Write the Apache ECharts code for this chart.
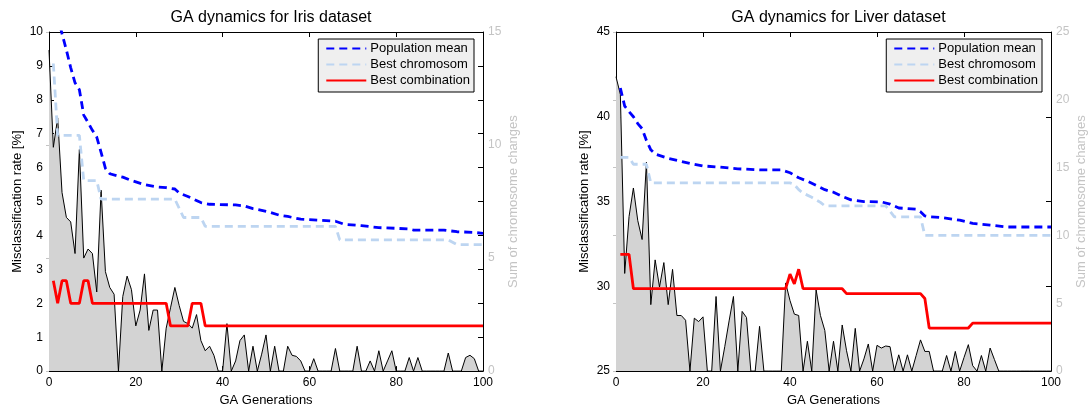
<!DOCTYPE html>
<html><head><meta charset="utf-8">
<script src="https://cdn.jsdelivr.net/npm/echarts@6/dist/echarts.min.js"></script>
<style>html,body{margin:0;padding:0;background:#fff}#c{width:1090px;height:412px}</style>
</head><body><div id="c"></div>
<script>
// ---------- DATA ----------
const titles = ['GA dynamics for Iris dataset', 'GA dynamics for Liver dataset'];
const seriesNames = ['Population mean', 'Best chromosom', 'Best combination'];
const xTicks = [0, 20, 40, 60, 80, 100];
const irisLeftTicks = [0, 10, 1];     // min, max, interval
const irisRightTicks = [0, 15, 5];
const liverLeftTicks = [25, 45, 5];
const liverRightTicks = [0, 25, 5];

// Sum of chromosome changes, generation 0..100 (right axis)
const irisChanges = [14.2,9.9,11.2,7.9,6.8,6.6,5.2,9.8,5.0,5.4,
  5.2,3.5,8.0,4.4,3.7,3.4,0,3.3,4.2,3.6,
  2.0,2.7,4.3,1.8,2.7,2.7,0,1.9,2.8,3.7,
  2.9,2.2,2.1,1.9,2.5,1.35,0.9,1.1,0.7,0,
  0,2.1,0,0.45,1.35,1.6,0,1.1,0,0.75,
  1.6,0,1.1,0,0,1.1,0.7,0.65,0.45,0,
  0,0.55,0,0,0,0,1.0,0,0,0,
  0,1.1,0,0,0.45,0,0.9,0,0.45,0.9,
  0,0,0,0.6,0,0.6,0,0,0,0,
  0,0,0.8,0,0,0,0.6,0.7,0.55,0,0];
const liverChanges = [21.7,20.4,7.2,11.4,13.5,11.1,9.7,15.4,4.9,8.2,
  6.2,8.0,4.9,7.5,4.1,4.1,3.75,0,3.9,3.65,
  4.0,0,0,5.5,0,1.8,3.7,5.5,0,4.4,
  3.95,0,0,3.3,0,0,0,0,0,6.5,
  5.2,4.2,4.1,0,2.2,0,6.0,4.1,3.0,0,
  2.2,0,3.4,1.5,0,3.15,0,0.9,2.0,0,
  1.9,1.7,1.85,1.8,0,1.2,0,1.2,0,1.15,
  2.3,1.45,1.45,0,0,0,1.15,0,1.45,0,
  1.0,1.95,0.4,0,1.15,0,1.7,0.85,0,0,
  0,0,0,0,0,0,0,0,0,0,0];

// [generation, misclassification %]
const irisMean = [[1,10.9],[2,10.45],[3,9.95],[4,9.47],[5,8.95],[6,8.5],[7,8.3],[8,7.55],[9,7.33],[10,7.1],[11,6.9],[12,6.45],[13,5.98],[14,5.82],[16,5.75],[17,5.72],[19,5.62],[22,5.5],[25,5.43],[27,5.41],[29,5.37],[30,5.25],[32,5.15],[35,4.97],[37,4.92],[43,4.9],[45,4.87],[47,4.79],[49,4.74],[51,4.68],[53,4.6],[55,4.56],[58,4.48],[62,4.45],[66,4.42],[68,4.33],[72,4.29],[76,4.23],[80,4.21],[83,4.19],[84,4.16],[91,4.16],[94,4.11],[98,4.09],[100,4.06]];
const irisBestChrom = [[1,9.07],[2,6.95],[7,6.95],[8,5.62],[11,5.62],[12,5.07],[29,5.07],[31,4.53],[35,4.53],[36,4.27],[66,4.27],[67,3.87],[92,3.87],[94,3.73],[100,3.73]];
const irisBestComb = [[1,2.667],[2,2.0],[3,2.667],[4,2.667],[5,2.0],[7,2.0],[8,2.667],[9,2.667],[10,2.0],[27,2.0],[28,1.333],[32,1.333],[33,2.0],[35,2.0],[36,1.333],[100,1.333]];

const liverMean = [[1,41.7],[2,40.63],[3,40.3],[4,40.0],[5,39.6],[6,39.3],[7,38.6],[8,38.05],[9,37.8],[12,37.55],[17,37.25],[20,37.1],[24,37.03],[28,36.93],[33,36.87],[38,36.87],[40,36.7],[42,36.4],[44,36.2],[46,35.95],[48,35.7],[50,35.55],[52,35.3],[54,35.1],[57,35.0],[61,34.98],[63,34.85],[65,34.62],[69,34.55],[70,34.4],[71,34.15],[72,34.1],[75,34.05],[79,33.9],[82,33.71],[86,33.61],[90,33.5],[100,33.5]];
const liverBestChrom = [[1,37.6],[3,37.6],[4,37.2],[7,37.2],[8,36.1],[40,36.1],[41,36.0],[42,35.7],[43,35.5],[45,35.25],[47,34.95],[48,34.75],[62,34.75],[64,34.1],[70,34.1],[71,33.0],[100,33.0]];
const liverBestComb = [[1,31.88],[3,31.88],[4,29.86],[39,29.86],[40,30.72],[41,30.14],[42,31.01],[43,29.86],[52,29.86],[53,29.57],[70,29.57],[71,29.28],[72,27.54],[81,27.54],[82,27.83],[100,27.83]];

// ---------- CHART ----------
const FONT = "'Liberation Sans', Arial, Helvetica, sans-serif";
const GRAY = '#c4c4c4';
const chart = echarts.init(document.getElementById('c'), null, {renderer: 'canvas'});

const panels = [
  {grid: {left: 49, top: 32, width: 434, height: 342}, left: irisLeftTicks, right: irisRightTicks,
   changes: irisChanges, mean: irisMean, chrom: irisBestChrom, comb: irisBestComb},
  {grid: {left: 616, top: 32, width: 435, height: 342}, left: liverLeftTicks, right: liverRightTicks,
   changes: liverChanges, mean: liverMean, chrom: liverBestChrom, comb: liverBestComb}
];

const option = {
  backgroundColor: '#fff',
  textStyle: {fontFamily: FONT},
  animation: false,
  title: [], grid: [], xAxis: [], yAxis: [], series: [], legend: []
};

panels.forEach((p, k) => {
  const cx = p.grid.left + p.grid.width / 2;
  option.title.push({text: titles[k], left: cx, top: 5, textAlign: 'center',
    textStyle: {fontFamily: FONT, fontSize: 16, fontWeight: 'normal', color: '#000'}});
  option.grid.push(Object.assign({containLabel: false}, p.grid));
  const xb = option.xAxis.length;
  option.xAxis.push({
    type: 'value', gridIndex: k, position: 'bottom', min: xTicks[0], max: xTicks[xTicks.length - 1],
    interval: xTicks[1] - xTicks[0], name: 'GA Generations', nameLocation: 'middle', nameGap: 21,
    nameTextStyle: {fontFamily: FONT, fontSize: 13, color: '#000'},
    axisLine: {show: true, onZero: false, lineStyle: {color: '#000', width: 1}},
    axisTick: {show: true, inside: true, length: 5, lineStyle: {color: '#000'}},
    axisLabel: {fontFamily: FONT, fontSize: 12, color: '#000', margin: 6},
    splitLine: {show: false}
  });
  option.xAxis.push({
    type: 'value', gridIndex: k, position: 'top', min: xTicks[0], max: xTicks[xTicks.length - 1],
    interval: xTicks[1] - xTicks[0],
    axisLine: {show: true, onZero: false, lineStyle: {color: '#000', width: 1}},
    axisTick: {show: true, inside: true, length: 5, lineStyle: {color: '#000'}},
    axisLabel: {show: false}, splitLine: {show: false}
  });
  const yl = option.yAxis.length;
  option.yAxis.push({
    type: 'value', gridIndex: k, position: 'left', min: p.left[0], max: p.left[1], interval: p.left[2],
    name: 'Misclassification rate [%]', nameLocation: 'middle', nameGap: 25, nameRotate: 90,
    nameTextStyle: {fontFamily: FONT, fontSize: 13, color: '#000'},
    axisLine: {show: true, onZero: false, lineStyle: {color: '#000', width: 1}},
    axisTick: {show: true, inside: true, length: 5, lineStyle: {color: '#000'}},
    axisLabel: {fontFamily: FONT, fontSize: 12, color: '#000', margin: 6},
    splitLine: {show: false}
  });
  option.yAxis.push({
    type: 'value', gridIndex: k, position: 'right', offset: 0, min: p.left[0], max: p.left[1], interval: p.left[2],
    axisLine: {show: true, onZero: false, lineStyle: {color: '#000', width: 1}},
    axisTick: {show: true, inside: true, length: 5, lineStyle: {color: '#000'}},
    axisLabel: {show: false}, splitLine: {show: false}
  });
  const yr = option.yAxis.length;
  option.yAxis.push({
    type: 'value', gridIndex: k, position: 'right', offset: 0, min: p.right[0], max: p.right[1], interval: p.right[2],
    name: 'Sum of chromosome changes', nameLocation: 'middle', nameGap: 24, nameRotate: 90,
    nameTextStyle: {fontFamily: FONT, fontSize: 13, color: GRAY},
    axisLine: {show: false},
    axisTick: {show: true, inside: true, length: 3, lineStyle: {color: GRAY}},
    axisLabel: {fontFamily: FONT, fontSize: 12, color: GRAY, margin: 5},
    splitLine: {show: false}
  });
  option.series.push({
    type: 'line', name: 'changes', xAxisIndex: xb, yAxisIndex: yr, symbol: 'none', z: 1,
    data: p.changes.map((v, i) => [i, v]),
    lineStyle: {color: '#000', width: 1}, itemStyle: {color: '#000'},
    areaStyle: {color: '#d3d3d3', opacity: 1}
  });
  option.series.push({
    type: 'line', name: seriesNames[1], xAxisIndex: xb, yAxisIndex: yl, symbol: 'none', z: 3,
    data: p.chrom, itemStyle: {color: '#bdd5f1'},
    lineStyle: {color: '#bdd5f1', width: 2.8, type: [8, 5]}
  });
  option.series.push({
    type: 'line', name: seriesNames[0], xAxisIndex: xb, yAxisIndex: yl, symbol: 'none', z: 4,
    data: p.mean, itemStyle: {color: '#0000ff'},
    lineStyle: {color: '#0000ff', width: 2.8, type: [8, 5]}
  });
  option.series.push({
    type: 'line', name: seriesNames[2], xAxisIndex: xb, yAxisIndex: yl, symbol: 'none', z: 5,
    data: p.comb, itemStyle: {color: '#ff0000'},
    lineStyle: {color: '#ff0000', width: 2.8}
  });
  const gr = p.grid.left + p.grid.width;
  option.legend.push({
    orient: 'vertical', right: 1090 - gr + 9, top: 39,
    data: seriesNames, selectedMode: false,
    itemStyle: {opacity: 0},
    backgroundColor: '#efefef', borderColor: '#000', borderWidth: 1, borderRadius: 0,
    padding: [3, 4, 5, 7], itemGap: 3, itemWidth: 40, itemHeight: 12,
    textStyle: {fontFamily: FONT, fontSize: 13, color: '#000', padding: [0, 0, 0, -1]}
  });
});

chart.setOption(option);
</script></body></html>
